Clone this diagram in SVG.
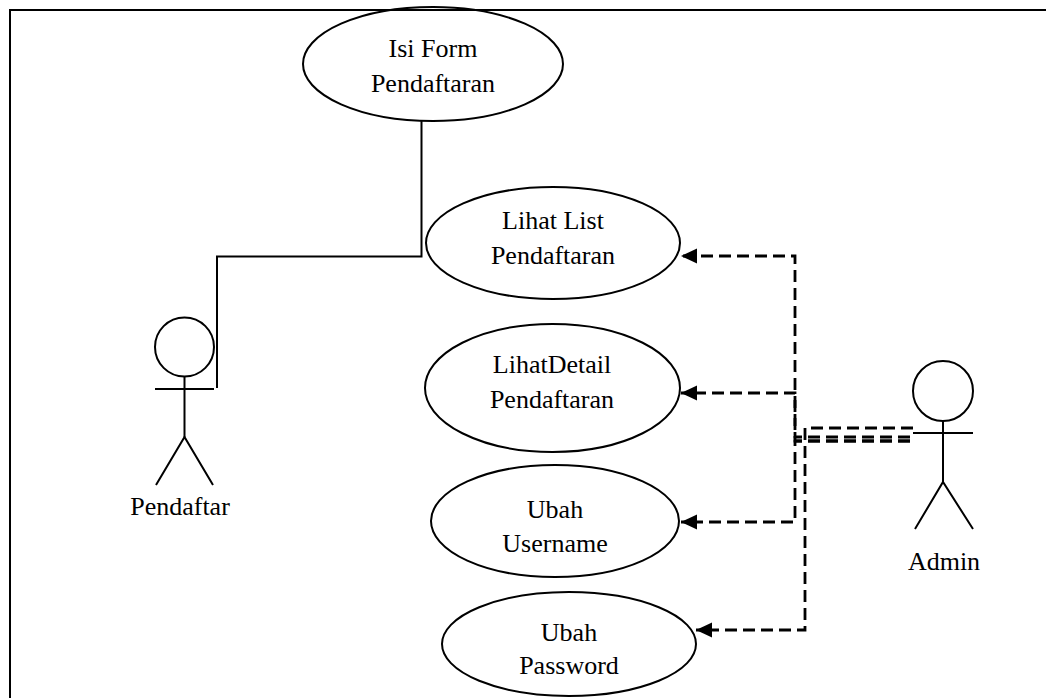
<svg xmlns="http://www.w3.org/2000/svg" width="1046" height="698" viewBox="0 0 1046 698">
<style>
.uc{fill:#fff;stroke:#000;stroke-width:2}
.lbl{font-family:"Liberation Serif","Times New Roman",serif;font-size:26px;fill:#000;text-anchor:middle}
.actor{fill:none;stroke:#000;stroke-width:2}
.solid{fill:none;stroke:#000;stroke-width:2}
.dash{fill:none;stroke:#000;stroke-width:2.8;stroke-dasharray:12 6}
</style>
<defs>
<marker id="arr" markerUnits="userSpaceOnUse" markerWidth="18" markerHeight="16" refX="16" refY="7.5" orient="auto">
<path d="M0,0 L16,7.5 L0,15 Z" fill="#000"/>
</marker>
</defs>
<rect width="1046" height="698" fill="#fff"/>
<g id="connectors">
<polyline class="solid" points="217,388 217,256.5 421.5,256.5 421.5,121"/>
<path class="dash" d="M910,437 H795 V256 H681" marker-end="url(#arr)"/>
<path class="dash" d="M910,441 H795 V393 H681" marker-end="url(#arr)"/>
<path class="dash" d="M910,441 H795 V522 H681" marker-end="url(#arr)"/>
<path class="dash" d="M913,428 H805 V630 H696" marker-end="url(#arr)"/>
</g>
<g id="uc-isi-form">
<ellipse class="uc" cx="433" cy="64" rx="130" ry="57"/>
<text class="lbl" x="433" y="57">Isi Form</text>
<text class="lbl" x="433" y="92">Pendaftaran</text>
</g>
<g id="uc-lihat-list">
<ellipse class="uc" cx="553" cy="243" rx="127" ry="56"/>
<text class="lbl" x="553" y="229">Lihat List</text>
<text class="lbl" x="553" y="264">Pendaftaran</text>
</g>
<g id="uc-lihat-detail">
<ellipse class="uc" cx="552.5" cy="388" rx="127.5" ry="64"/>
<text class="lbl" x="552" y="373">LihatDetail</text>
<text class="lbl" x="552" y="408">Pendaftaran</text>
</g>
<g id="uc-ubah-username">
<ellipse class="uc" cx="555" cy="521" rx="124" ry="56"/>
<text class="lbl" x="555" y="518">Ubah</text>
<text class="lbl" x="555" y="552">Username</text>
</g>
<g id="uc-ubah-password">
<ellipse class="uc" cx="569" cy="644" rx="127" ry="52"/>
<text class="lbl" x="569" y="641">Ubah</text>
<text class="lbl" x="569" y="674">Password</text>
</g>
<g id="actor-pendaftar">
<circle class="actor" cx="184.5" cy="347" r="29.5"/>
<line class="actor" x1="155" y1="389" x2="214" y2="389"/>
<line class="actor" x1="184.5" y1="376.5" x2="184.5" y2="437"/>
<polyline class="actor" points="156,485 184.5,437 213,485"/>
<text class="lbl" x="180" y="515">Pendaftar</text>
</g>
<g id="actor-admin">
<circle class="actor" cx="943" cy="391" r="30"/>
<line class="actor" x1="913" y1="433" x2="973" y2="433"/>
<line class="actor" x1="943" y1="421" x2="943" y2="482"/>
<polyline class="actor" points="915,529 943,482 973,529"/>
<text class="lbl" x="944" y="570">Admin</text>
</g>
<rect id="frame" x="10" y="10" width="1100" height="800" fill="none" stroke="#000" stroke-width="2"/>
</svg>
